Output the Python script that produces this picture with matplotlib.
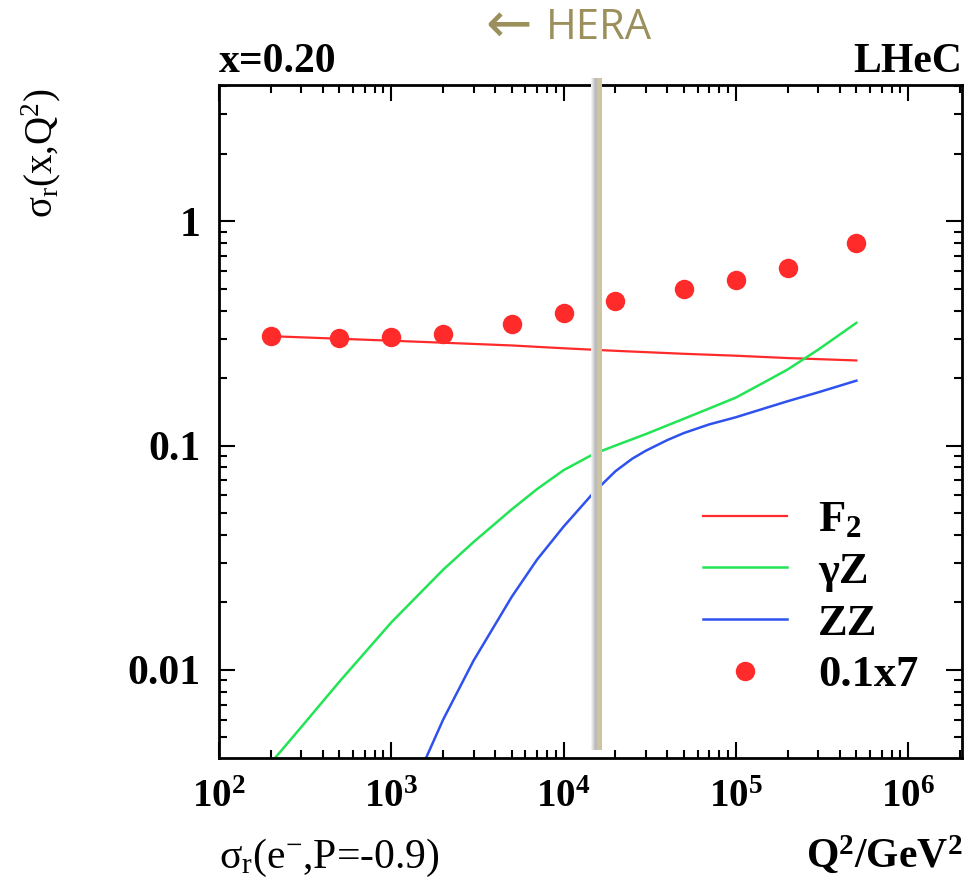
import matplotlib
matplotlib.use("Agg")
import matplotlib.pyplot as plt
from matplotlib.ticker import LogLocator, FixedLocator, FixedFormatter, NullFormatter
from matplotlib.patches import Rectangle

plt.rcParams.update({
    "font.family": ["Liberation Serif", "DejaVu Serif"],
    "mathtext.fontset": "custom",
    "mathtext.rm": "Liberation Serif",
    "mathtext.it": "Liberation Serif:italic",
    "mathtext.bf": "Liberation Serif:bold",
})

# Reduced cross section sigma_r(e-, P=-0.9) at x = 0.20
q2_points = [200, 500, 1000, 2000, 5000, 1e4, 2e4, 5e4, 1e5, 2e5, 5e5]
sigma_points = [0.310, 0.303, 0.306, 0.316, 0.350, 0.392, 0.444, 0.502, 0.551, 0.623, 0.798]
f2_values = [0.308, 0.300, 0.294, 0.288, 0.280, 0.272, 0.265, 0.257, 0.252, 0.246, 0.240]

q2_gz = [200, 300, 500, 1000, 2000, 3000, 5000, 7000, 1e4, 1.5e4, 2e4, 3e4, 5e4,
         7e4, 1e5, 1.5e5, 2e5, 3e5, 5e5]
gz_values = [0.00385, 0.00556, 0.00887, 0.0163, 0.0280, 0.0372, 0.0520, 0.0640, 0.0778,
             0.0920, 0.1002, 0.1127, 0.132, 0.1466, 0.164, 0.194, 0.219, 0.268, 0.353]

q2_zz = [1000, 1500, 2000, 3000, 5000, 7000, 1e4, 1.5e4, 2e4, 2.5e4, 3e4, 4e4, 5e4,
         7e4, 1e5, 1.5e5, 2e5, 3e5, 5e5]
zz_values = [0.0017, 0.00366, 0.00601, 0.0110, 0.0212, 0.0310, 0.0436, 0.0620, 0.0770,
             0.0875, 0.0950, 0.1060, 0.1140, 0.1245, 0.134, 0.1476, 0.158, 0.173, 0.195]

legend_labels = ["F$_{\\mathbf{2}}$", "γZ", "ZZ", "0.1x7"]
y_tick_values = [0.01, 0.1, 1]
y_tick_labels = ["0.01", "0.1", "1"]
x_tick_values = [1e2, 1e3, 1e4, 1e5, 1e6]
x_tick_labels = [r"$\mathbf{10^{2}}$", r"$\mathbf{10^{3}}$", r"$\mathbf{10^{4}}$",
                 r"$\mathbf{10^{5}}$", r"$\mathbf{10^{6}}$"]
hera_limit = 1.6e4

RED = "#ff2a2a"
GREEN = "#22e455"
BLUE = "#2f52ee"
OLIVE = "#9b905c"

fig = plt.figure(figsize=(9.78, 8.81), dpi=100)
ax = fig.add_axes([0.2239, 0.1396, 0.7597, 0.7639])
ax.set_xscale("log")
ax.set_yscale("log")
ax.set_xlim(100, 2.05e6)
ax.set_ylim(0.00405, 4.06)

ax.plot(q2_points, f2_values, color=RED, lw=1.6, label=legend_labels[0])
ax.plot(q2_gz, gz_values, color=GREEN, lw=1.8, label=legend_labels[1])
ax.plot(q2_zz, zz_values, color=BLUE, lw=1.8, label=legend_labels[2])
ax.plot(q2_points, sigma_points, ls="none", marker="o", ms=14, mec="none",
        color=RED, label=legend_labels[3])

# HERA kinematic limit: tan bar with a soft grey shadow on its left side
trans = ax.get_xaxis_transform()
y0, y1 = 0.012, 1.0104
bar_lo, bar_hi = hera_limit * 10 ** -0.0079, hera_limit * 10 ** 0.0211
ax.add_patch(Rectangle((bar_lo, y0), bar_hi - bar_lo, y1 - y0, transform=trans,
                       facecolor="#cdc5a1", edgecolor="none", clip_on=False, zorder=5))
shades = ["#f2f2f2", "#e4e4e4", "#d4d4d4", "#c6c6c6", "#bcbcbc", "#b8b8b8"]
step = 0.0058
for i, c in enumerate(shades):
    lo = bar_lo * 10 ** (-step * (len(shades) - i))
    hi = bar_lo * 10 ** (-step * (len(shades) - i - 1))
    ax.add_patch(Rectangle((lo, y0), hi - lo, y1 - y0, transform=trans,
                           facecolor=c, edgecolor="none", clip_on=False, zorder=5))

# Axes styling
for s in ax.spines.values():
    s.set_linewidth(2.0)
ax.xaxis.set_major_locator(FixedLocator(x_tick_values))
ax.xaxis.set_major_formatter(FixedFormatter(x_tick_labels))
ax.xaxis.set_minor_locator(LogLocator(base=10, subs=range(2, 10), numticks=20))
ax.xaxis.set_minor_formatter(NullFormatter())
ax.yaxis.set_major_locator(FixedLocator(y_tick_values))
ax.yaxis.set_major_formatter(FixedFormatter(y_tick_labels))
ax.yaxis.set_minor_locator(LogLocator(base=10, subs=range(2, 10), numticks=20))
ax.yaxis.set_minor_formatter(NullFormatter())
ax.tick_params(which="both", direction="in", top=True, right=True, width=1.5)
ax.tick_params(which="major", length=11.5)
ax.tick_params(which="minor", length=6)
ax.tick_params(axis="x", which="major", labelsize=28, pad=15)
ax.tick_params(axis="y", which="major", labelsize=30, pad=13)
for lab in ax.get_yticklabels() + ax.get_xticklabels():
    lab.set_fontweight("bold")

leg = ax.legend(loc="upper left", bbox_to_anchor=(0.651, 0.383), frameon=False,
                prop={"size": 32, "weight": "bold"}, borderpad=0, borderaxespad=0,
                handlelength=1.9, handletextpad=0.7, labelspacing=0.26,
                numpoints=1)

# Titles and axis captions
fig.text(219 / 978, 1 - 72 / 881, "x=0.20", ha="left", va="baseline",
         fontsize=30, fontweight="bold")
fig.text(962 / 978, 1 - 72 / 881, "LHeC", ha="right", va="baseline",
         fontsize=30, fontweight="bold")
fig.text(41 / 978, 1 - 88 / 881, "σ$_\\mathrm{r}$(x,Q$^\\mathrm{2}$)", rotation=90,
         ha="center", va="top", fontsize=28)
fig.text(219 / 978, 1 - 868 / 881, "σ$_\\mathrm{r}$(e$^\\mathrm{-}$,P=-0.9)",
         ha="left", va="baseline", fontsize=30)
fig.text(962 / 978, 1 - 868 / 881, "Q$^\\mathbf{2}$/GeV$^\\mathbf{2}$",
         ha="right", va="baseline", fontsize=30, fontweight="bold")
fig.text(509 / 978, 1 - 27 / 881, "←", ha="center", va="center",
         fontsize=40, color=OLIVE, family=["DejaVu Sans"])
fig.text(546 / 978, 1 - 28 / 881, "HERA", ha="left", va="center",
         fontsize=30, color=OLIVE, family=["Open Sans", "DejaVu Sans"])

fig.savefig("out.png", dpi=100)
